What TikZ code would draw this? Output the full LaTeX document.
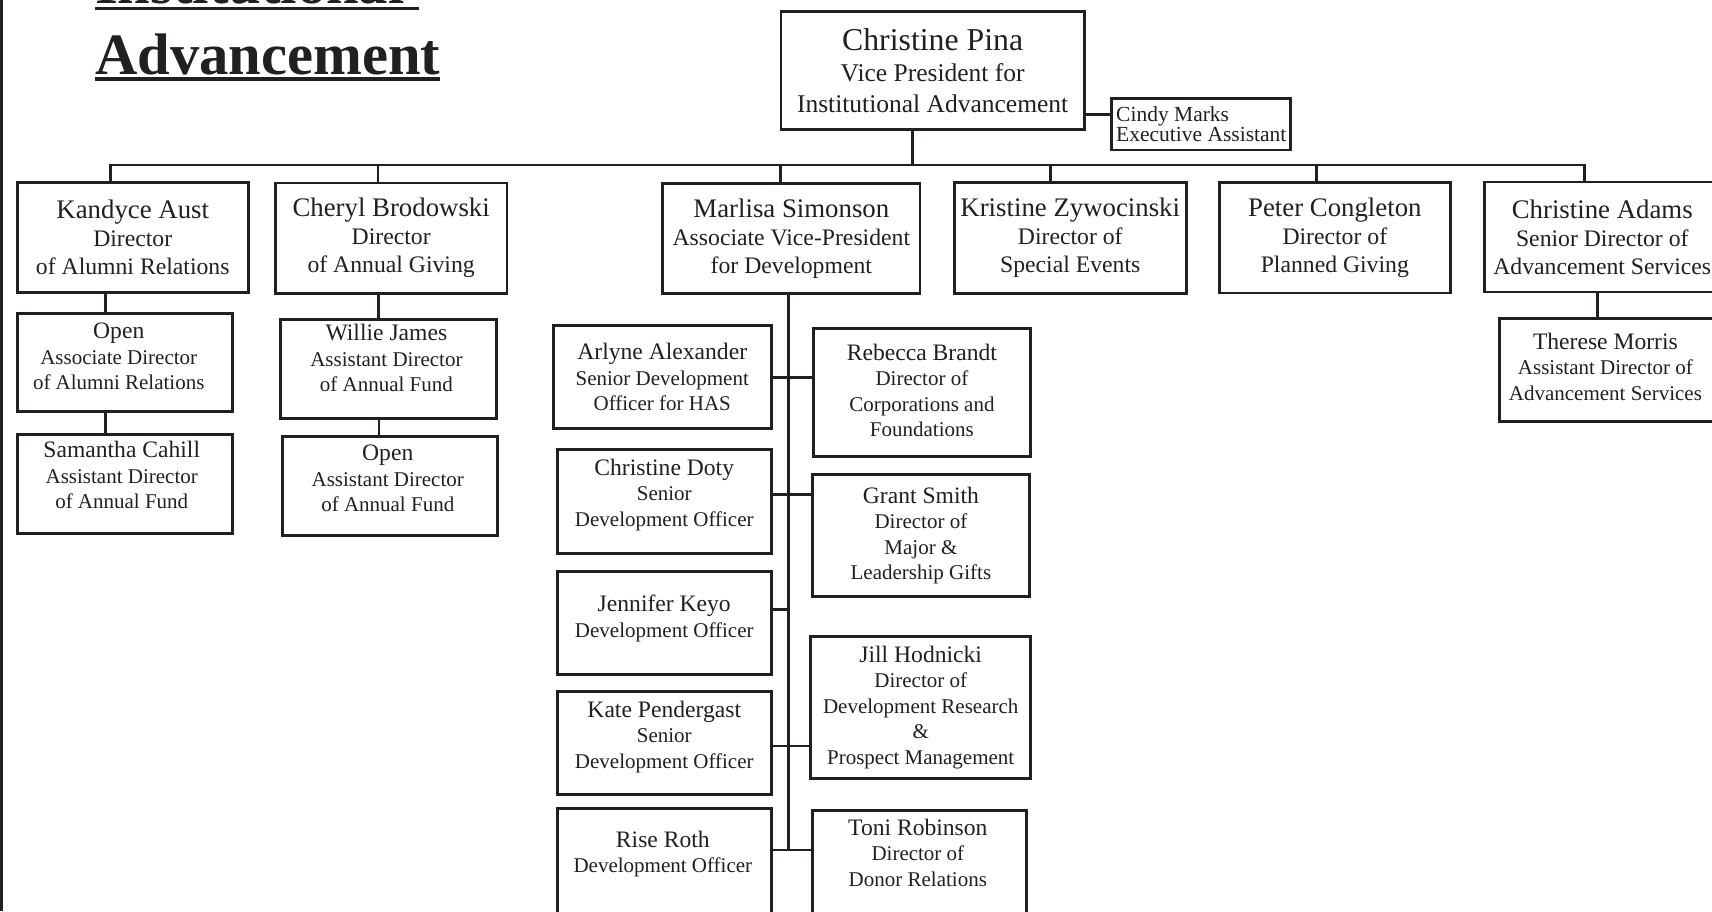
\documentclass[tikz,border=0pt]{standalone}
\usepackage{fontspec}
\setmainfont{Liberation Serif}
\definecolor{ink}{HTML}{231F20}
\newcommand\nmT[1]{{\fontsize{26.8}{28}\selectfont #1}}
\newcommand\nmS[1]{{\fontsize{23.6}{25.5}\selectfont #1}}
\newcommand\nmP[1]{{\fontsize{31.8}{31}\selectfont #1}}
\begin{document}
\begin{tikzpicture}[x=1pt,y=-1pt,
  every node/.style={text=ink},
  box/.style={draw=ink, line width=2.8pt, inner sep=0pt, align=center, anchor=north west},
  topbox/.style={box, font=\fontsize{23.7}{28}\selectfont},
  subbox/.style={box, font=\fontsize{21}{25.5}\selectfont},
  subtext/.style={inner sep=0pt, align=center, anchor=north, font=\fontsize{21}{25.5}\selectfont},
  tx/.style={inner sep=0pt, align=center, font=\fontsize{21}{25.5}\selectfont},
  conn/.style={draw=ink, line width=2.6pt},
  uline/.style={draw=ink, line width=3.3pt},
  titlefont/.style={inner sep=0pt, anchor=base west, font=\fontsize{58.6}{62}\selectfont\bfseries}]
\useasboundingbox (0,0) rectangle (1712,911);
\clip (0,0) rectangle (1712,911);
\fill[white] (0,0) rectangle (1712,911);
% left page edge
\fill[ink] (0,0) rectangle (3.3,911);
% title
\node[titlefont] (tInst) at (95,3.5) {Institutional};
\node[titlefont] (tAdv) at (95,74) {Advancement};
\draw[uline] ([yshift=-5pt]tInst.base west) -- ([yshift=-5pt,xshift=14.6pt]tInst.base east);
\draw[uline] ([yshift=-5pt]tAdv.base west) -- ([yshift=-5pt]tAdv.base east);

% top
\node[box, minimum width=303.5, minimum height=117.9, font=\fontsize{25.5}{31}\selectfont] (pina) at (779.5,9.8)
  {\nmP{Christine Pina}\\Vice President for\\Institutional Advancement};
\node[box, align=left, minimum width=179, minimum height=51.3, font=\fontsize{21.5}{20}\selectfont] (cindy) at (1110.4,97.2)
  {Cindy Marks\\Executive Assistant};

% level 1
\node[topbox, minimum width=230.7, minimum height=110.3] (kandyce) at (16,180.7)
  {\nmT{Kandyce Aust}\\Director\\of Alumni Relations};
\node[topbox, minimum width=231.5, minimum height=110.2] (cheryl) at (274,181.5)
  {\nmT{Cheryl Brodowski}\\Director\\of Annual Giving};
\node[topbox, minimum width=257.3, minimum height=110] (marlisa) at (661.3,182.3)
  {\nmT{Marlisa Simonson}\\Associate Vice-President\\for Development};
\node[topbox, minimum width=232.3, minimum height=111] (kristine) at (952.7,180.7)
  {\nmT{Kristine Zywocinski}\\Director of\\Special Events};
\node[topbox, minimum width=230.8, minimum height=110.6] (peter) at (1218,181)
  {\nmT{Peter Congleton}\\Director of\\Planned Giving};
\node[topbox, minimum width=236.3, minimum height=110] (adams) at (1482.7,180.5)
  {\nmT{Christine Adams}\\Senior Director of\\Advancement Services};

% level 2 left
\node[subbox, minimum width=214.7, minimum height=98.3] (openA) at (16,311.7) {};
\node[tx] (openAT) at ([xshift=-6pt,yshift=5.5pt]openA.center)
  {\nmS{Open}\\Associate Director\\of Alumni Relations};
\node[subbox, minimum width=214.7, minimum height=99] (samantha) at (16,432.7) {};
\node[tx] (samanthaT) at ([xshift=-3pt,yshift=8.5pt]samantha.center)
  {\nmS{Samantha Cahill}\\Assistant Director\\of Annual Fund};
\node[subbox, minimum width=215.4, minimum height=98.4] (willie) at (279.3,318.3) {};
\node[tx] (willieT) at ([xshift=-2pt,yshift=10.5pt]willie.center)
  {\nmS{Willie James}\\Assistant Director\\of Annual Fund};
\node[subbox, minimum width=214.7, minimum height=98.7] (openF) at (281,435.3) {};
\node[tx] (openFT) at ([xshift=-2pt,yshift=7.5pt]openF.center)
  {\nmS{Open}\\Assistant Director\\of Annual Fund};

% development
\node[subbox, minimum width=218.3, minimum height=103] (arlyne) at (551.7,324.3)
  {\nmS{Arlyne Alexander}\\Senior Development\\Officer for HAS};
\node[subbox, minimum width=217.6, minimum height=128.3] (rebecca) at (811.7,326.7) {};
\node[tx] (rebeccaT) at ([yshift=2pt]rebecca.center)
  {\nmS{Rebecca Brandt}\\Director of\\Corporations and\\Foundations};
\node[subbox, minimum width=214.3, minimum height=103.4] (doty) at (555.7,448.3) {};
\node[tx] (dotyT) at ([yshift=6.5pt]doty.center)
  {\nmS{Christine Doty}\\Senior\\Development Officer};
\node[subbox, minimum width=217.6, minimum height=122] (grant) at (810.7,473.3)
  {\nmS{Grant Smith}\\Director of\\Major \&\\Leadership Gifts};
\node[subbox, minimum width=214.3, minimum height=103.3] (jennifer) at (555.7,570) {};
\node[tx] (jenniferT) at ([yshift=4.4pt]jennifer.center)
  {\nmS{Jennifer Keyo}\\Development Officer};
\node[subbox, minimum width=220, minimum height=142.3] (jill) at (809.3,635)
  {\nmS{Jill Hodnicki}\\Director of\\Development Research\\\&\\Prospect Management};
\node[subbox, minimum width=214.3, minimum height=103.3] (kate) at (555.7,690) {};
\node[tx] (kateT) at ([yshift=6.5pt]kate.center)
  {\nmS{Kate Pendergast}\\Senior\\Development Officer};
\node[subbox, minimum width=214.3, minimum height=122.7] (rise) at (555.7,807.3) {};
\node[subtext] (riseT) at (662.85,830.6) {\nmS{Rise Roth}\\Development Officer};
\node[subbox, minimum width=214.3, minimum height=121] (toni) at (810.7,809) {};
\node[subtext] (toniT) at (917.85,818.9) {\nmS{Toni Robinson}\\Director of\\Donor Relations};

% right
\node[subbox, minimum width=218, minimum height=103.3] (therese) at (1498,317) {};
\node[tx] (thereseT) at ([xshift=-3pt,yshift=3.3pt]therese.center)
  {\nmS{Therese Morris}\\Assistant Director of\\Advancement Services};

% connector coordinates
\coordinate (bK) at (110.3,164.9);
\coordinate (bC) at (377.8,164.9);
\coordinate (bM) at (780.6,164.9);
\coordinate (bP) at (912.7,164.9);
\coordinate (bKr) at (1050.3,164.9);
\coordinate (bPe) at (1316.7,164.9);
\coordinate (bA) at (1584.2,164.9);
\coordinate (cy) at (1090,114.6);
\coordinate (kx) at (105.7,0);
\coordinate (ox) at (105.2,0);
\coordinate (chx) at (378.5,0);
\coordinate (wx) at (379,0);
\coordinate (ax) at (1597.7,0);
\coordinate (tr) at (788.3,0);
\coordinate (trEnd) at (788.3,850);
\coordinate (h2) at (700,494.3);
\coordinate (h3) at (700,609.3);
\coordinate (h4) at (700,746);

% connectors
\draw[conn] (bP) -- (bP |- pina.south);
\draw[conn] (pina.east |- cy) -- (cindy.west |- cy);
\draw[conn, line cap=rect] (bK) -- (bA);
\foreach \b/\n in {bK/kandyce, bC/cheryl, bM/marlisa, bKr/kristine, bPe/peter, bA/adams}
  \draw[conn] (\b) -- (\b |- \n.north);
\draw[conn] (kandyce.south -| kx) -- (openA.north -| kx);
\draw[conn] (openA.south -| ox) -- (samantha.north -| ox);
\draw[conn] (cheryl.south -| chx) -- (willie.north -| chx);
\draw[conn] (willie.south -| wx) -- (openF.north -| wx);
\draw[conn] (adams.south -| ax) -- (therese.north -| ax);
\draw[conn] (marlisa.south -| tr) -- (trEnd);
\draw[conn] (arlyne.east) -- (rebecca.west |- arlyne.east);
\draw[conn] (doty.east |- h2) -- (grant.west |- h2);
\draw[conn] (jennifer.east |- h3) -- (tr |- h3);
\draw[conn] (kate.east |- h4) -- (jill.west |- h4);
\draw[conn] (rise.east |- trEnd) -- (toni.west |- trEnd);
\end{tikzpicture}
\end{document}
